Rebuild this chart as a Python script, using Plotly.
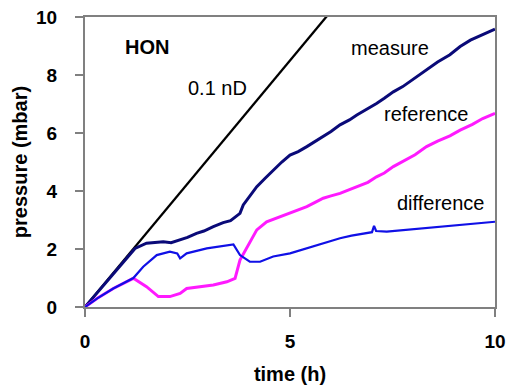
import plotly.graph_objects as go

# time (h) and pressure (mbar) series
t_measure = [0.0, 0.3, 0.6, 0.9, 1.22, 1.5, 1.91, 2.1, 2.32, 2.5, 2.72, 2.9, 3.13, 3.37, 3.55, 3.66, 3.78, 3.86,
             4.0, 4.19, 4.4, 4.59, 4.8, 5.0, 5.2, 5.41, 5.6, 5.81, 6.0, 6.22, 6.45, 6.63, 6.85, 7.11, 7.3,
             7.52, 7.75, 8.0, 8.33, 8.6, 8.9, 9.15, 9.4, 9.7, 10.0]
p_measure = [0.0, 0.5, 1.0, 1.5, 2.02, 2.2, 2.25, 2.22, 2.31, 2.4, 2.54, 2.62, 2.77, 2.91, 2.98, 3.11, 3.23, 3.52,
             3.8, 4.15, 4.45, 4.72, 5.0, 5.24, 5.36, 5.53, 5.7, 5.87, 6.05, 6.28, 6.45, 6.62, 6.8, 7.02, 7.2,
             7.42, 7.6, 7.85, 8.17, 8.45, 8.7, 8.98, 9.2, 9.4, 9.58]

t_reference = [0.0, 0.3, 0.69, 1.0, 1.18, 1.5, 1.79, 2.07, 2.32, 2.48, 2.8, 3.13, 3.46, 3.66, 3.78, 3.94, 4.19,
               4.43, 4.7, 5.0, 5.2, 5.41, 5.6, 5.81, 6.0, 6.22, 6.45, 6.63, 6.9, 7.11, 7.3, 7.52, 7.8, 8.05,
               8.33, 8.6, 8.9, 9.15, 9.45, 9.7, 10.0]
p_reference = [0.0, 0.3, 0.64, 0.85, 0.99, 0.7, 0.36, 0.36, 0.47, 0.64, 0.7, 0.76, 0.87, 0.99, 1.62, 2.02, 2.66,
               2.94, 3.08, 3.23, 3.33, 3.46, 3.6, 3.75, 3.83, 3.92, 4.05, 4.15, 4.3, 4.49, 4.62, 4.84, 5.05, 5.25,
               5.53, 5.72, 5.9, 6.1, 6.3, 6.5, 6.68]

t_difference = [0.0, 0.3, 0.69, 1.0, 1.18, 1.42, 1.75, 2.07, 2.25, 2.32, 2.48, 2.97, 3.3, 3.62, 3.78, 4.02,
                4.27, 4.59, 5.0, 5.41, 5.8, 6.22, 6.5, 6.79, 7.0, 7.05, 7.1, 7.36, 7.8, 8.33, 8.7, 9.15, 9.6, 10.0]
p_difference = [0.0, 0.3, 0.64, 0.85, 1.0, 1.39, 1.79, 1.91, 1.85, 1.68, 1.85, 2.02, 2.08, 2.16, 1.79, 1.56,
                1.56, 1.74, 1.85, 2.02, 2.2, 2.37, 2.46, 2.54, 2.58, 2.8, 2.62, 2.6, 2.66, 2.71, 2.76, 2.83, 2.88, 2.94]

t_nd = [0.0, 10.0]
p_nd = [0.0, 17.0]

FONT = "Liberation Sans, Arial, sans-serif"

fig = go.Figure()
fig.add_trace(go.Scatter(x=t_nd, y=p_nd, mode="lines", line=dict(color="black", width=2.3)))
fig.add_trace(go.Scatter(x=t_measure, y=p_measure, mode="lines", line=dict(color="#0a0a78", width=3)))
fig.add_trace(go.Scatter(x=t_reference, y=p_reference, mode="lines", line=dict(color="#ff1aff", width=3)))
fig.add_trace(go.Scatter(x=t_difference, y=p_difference, mode="lines", line=dict(color="#1010e6", width=2.2)))

labels = [
    (1.5, 8.97, "<b>HON</b>"),
    (3.24, 7.55, "0.1 nD"),
    (7.44, 8.93, "measure"),
    (8.32, 6.66, "reference"),
    (8.66, 3.59, "difference"),
]
for x, y, txt in labels:
    fig.add_annotation(x=x, y=y, text=txt, showarrow=False,
                       font=dict(family=FONT, size=20, color="black"))

axis_common = dict(
    showline=True, linecolor="#808080", linewidth=2, mirror=True,
    showgrid=False, zeroline=False, ticks="outside", tickcolor="#808080",
    tickwidth=1.5, automargin=False,
    tickfont=dict(family=FONT, size=19, color="black", weight="bold"),
)

fig.update_xaxes(range=[0, 10], tickvals=[0, 5, 10], ticklen=8, ticklabelstandoff=8,
                 title=dict(text="time (h)", font=dict(family=FONT, size=20, color="black", weight="bold"),
                            standoff=16),
                 **axis_common)
fig.update_yaxes(range=[0, 10], tickvals=[0, 2, 4, 6, 8, 10], ticklen=8, ticklabelstandoff=14,
                 title=dict(text="pressure (mbar)", font=dict(family=FONT, size=20, color="black", weight="bold"),
                            standoff=3),
                 **axis_common)

fig.update_layout(
    width=508, height=385, showlegend=False,
    margin=dict(l=85, r=13, t=17, b=78),
    plot_bgcolor="white", paper_bgcolor="white",
)

fig.write_html("out.html")
